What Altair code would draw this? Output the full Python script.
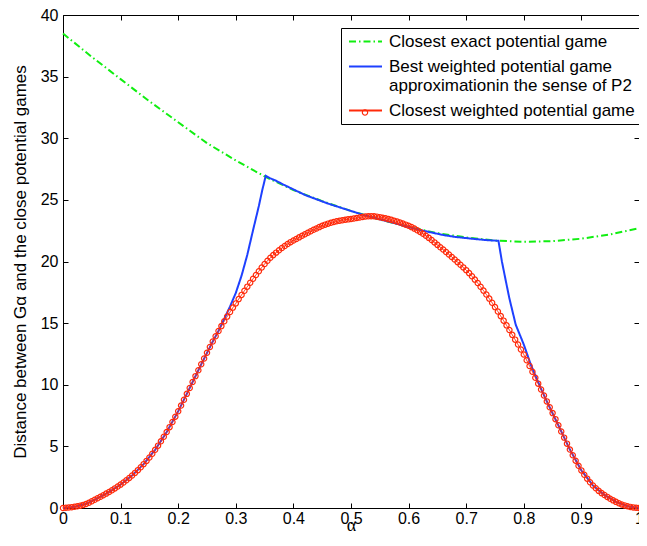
import altair as alt
import pandas as pd

S1 = "Closest exact potential game"
S2 = "Best weighted potential game\napproximationin the sense of P2"
S3 = "Closest weighted potential game"

GREEN = "#11ee11"
BLUE = "#1e40ff"
RED = "#ff2a0a"

x_ticks = [0, 0.1, 0.2, 0.3, 0.4, 0.5, 0.6, 0.7, 0.8, 0.9, 1]
y_ticks = [0, 5, 10, 15, 20, 25, 30, 35, 40]

alpha_green = [0.00, 0.05, 0.10, 0.15, 0.20, 0.25, 0.30, 0.35, 0.40, 0.45, 0.50,
               0.55, 0.60, 0.65, 0.70, 0.75, 0.80, 0.85, 0.90, 0.95, 1.00]
green_vals = [38.5, 36.6, 34.8, 33.0, 31.3, 29.6, 28.2, 26.9, 25.8, 24.9, 24.1,
              23.4, 22.8, 22.3, 21.95, 21.7, 21.6, 21.65, 21.85, 22.2, 22.7]

alpha_blue = [0.00, 0.02, 0.04, 0.06, 0.08, 0.10, 0.12, 0.14, 0.16, 0.18, 0.20,
              0.22, 0.24, 0.26, 0.27, 0.28, 0.29, 0.30, 0.31, 0.32, 0.33, 0.34,
              0.346, 0.352, 0.36, 0.37, 0.38, 0.40, 0.42, 0.44, 0.46, 0.48, 0.50,
              0.52, 0.54, 0.56, 0.58, 0.60, 0.62, 0.64, 0.66, 0.68, 0.70, 0.72,
              0.74, 0.756, 0.762, 0.769, 0.775, 0.786, 0.80, 0.812, 0.829, 0.84,
              0.86, 0.88, 0.90, 0.92, 0.94, 0.96, 0.98, 1.00]
blue_vals = [0.00, 0.10, 0.33, 0.79, 1.30, 1.90, 2.64, 3.56, 4.72, 6.16, 7.85,
             9.74, 11.66, 13.51, 14.36, 15.35, 16.35, 17.45, 18.85, 20.55, 22.55, 24.5,
             25.8, 26.95, 26.75, 26.55, 26.3, 25.85, 25.4, 25.05, 24.7, 24.4, 24.1,
             23.8, 23.55, 23.3, 23.05, 22.8, 22.55, 22.35, 22.15, 22.0, 21.9, 21.8,
             21.72, 21.68, 20.0, 18.37, 17.0, 14.87, 13.26, 11.65, 9.76, 8.65,
             6.71, 4.74, 3.05, 1.83, 1.05, 0.50, 0.14, 0.00]

# marker sampling grid of the red series (step 0.005)
alpha_red = [round(i * 0.005, 3) for i in range(201)]
red_vals = [
    0.00, 0.02, 0.04, 0.07, 0.10, 0.14, 0.19, 0.25, 0.33, 0.43,
    0.55, 0.67, 0.79, 0.91, 1.04, 1.17, 1.30, 1.44, 1.59, 1.74,
    1.90, 2.07, 2.25, 2.44, 2.64, 2.85, 3.07, 3.31, 3.56, 3.82,
    4.10, 4.40, 4.72, 5.06, 5.41, 5.78, 6.16, 6.56, 6.98, 7.41,
    7.85, 8.31, 8.78, 9.26, 9.74, 10.22, 10.70, 11.18, 11.66, 12.13,
    12.60, 13.06, 13.51, 13.94, 14.36, 14.76, 15.15, 15.53, 15.90, 16.26,
    16.60, 16.95, 17.29, 17.63, 17.96, 18.28, 18.60, 18.91, 19.21, 19.51,
    19.80, 20.06, 20.30, 20.52, 20.72, 20.91, 21.09, 21.26, 21.42, 21.57,
    21.70, 21.83, 21.96, 22.09, 22.21, 22.33, 22.45, 22.57, 22.68, 22.79,
    22.90, 22.99, 23.07, 23.14, 23.20, 23.26, 23.31, 23.35, 23.39, 23.42,
    23.45, 23.49, 23.53, 23.57, 23.61, 23.65, 23.67, 23.68, 23.67, 23.64,
    23.60, 23.55, 23.50, 23.44, 23.38, 23.31, 23.24, 23.16, 23.08, 22.99,
    22.90, 22.79, 22.67, 22.54, 22.40, 22.25, 22.09, 21.92, 21.74, 21.55,
    21.35, 21.16, 20.97, 20.77, 20.57, 20.37, 20.16, 19.95, 19.74, 19.52,
    19.30, 19.06, 18.80, 18.53, 18.25, 17.95, 17.64, 17.32, 16.99, 16.65,
    16.30, 15.94, 15.57, 15.20, 14.82, 14.44, 14.05, 13.66, 13.26, 12.86,
    12.45, 11.99, 11.52, 11.05, 10.57, 10.09, 9.61, 9.13, 8.65, 8.17,
    7.70, 7.21, 6.71, 6.21, 5.71, 5.22, 4.74, 4.28, 3.84, 3.43,
    3.05, 2.70, 2.38, 2.09, 1.83, 1.60, 1.39, 1.21, 1.05, 0.90,
    0.75, 0.62, 0.50, 0.39, 0.29, 0.21, 0.14, 0.09, 0.05, 0.02,
    0.00,
]
assert len(red_vals) == len(alpha_red)

df_g = pd.DataFrame({"alpha": alpha_green, "d": green_vals, "series": S1})
df_b = pd.DataFrame({"alpha": alpha_blue, "d": blue_vals, "series": S2})
df_r = pd.DataFrame({"alpha": alpha_red, "d": red_vals, "series": S3, "marker": S3})

W, H = 576, 493

xs = alt.Scale(domain=[0, 1], nice=False, zero=False)
ys = alt.Scale(domain=[0, 40], nice=False, zero=False)

ax_bottom = alt.Axis(orient="bottom", values=x_ticks, format="~g", offset=-5, tickSize=5,
                     labelPadding=2, labelFlush=False, labelOverlap=False, domain=False, grid=False,
                     title="α", titleFont="Liberation Serif", titleFontSize=18,
                     titleFontWeight="normal", titleX=W / 2, titleY=27,
                     titleBaseline="alphabetic", titleColor="black")
ax_left = alt.Axis(orient="left", values=y_ticks, offset=-5, tickSize=5, labelPadding=5,
                   labelFlush=False, labelOverlap=False, domain=False, grid=False,
                   title="Distance between Gα and the close potential games",
                   titleFont="Liberation Sans", titleFontSize=17, titleFontWeight="normal",
                   titleX=-43, titleY=H / 2, titleBaseline="alphabetic", titleAlign="center",
                   titleColor="black")
ax_top = alt.Axis(orient="top", values=x_ticks, offset=-5, tickSize=5, labels=False,
                  domain=False, grid=False, title=None)
ax_right = alt.Axis(orient="right", values=y_ticks, offset=-5, tickSize=5, labels=False,
                    domain=False, grid=False, title=None)

dom = [S1, S2, S3]
legend = alt.Legend(title=None, orient="none", legendX=278, legendY=13,
                    labelExpr="split(datum.label, '\\n')", labelFont="Liberation Sans",
                    labelFontSize=17, labelColor="black", labelLimit=500,
                    symbolType="M-3,0H3", symbolSize=121, symbolStrokeWidth=2,
                    symbolOffset=11, labelOffset=15,
                    strokeColor="black", fillColor="white", padding=5, rowPadding=7,
                    zindex=0)
color = alt.Color("series:N", scale=alt.Scale(domain=dom, range=[GREEN, BLUE, RED]), legend=legend)
dash = alt.StrokeDash("series:N", scale=alt.Scale(domain=dom, range=[[7, 3, 1.5, 3], [1, 0], [1, 0]]),
                      legend=legend)

green = alt.Chart(df_g).mark_line(strokeWidth=2).encode(
    x=alt.X("alpha:Q", scale=xs, axis=ax_bottom),
    y=alt.Y("d:Q", scale=ys, axis=ax_left),
    color=color, strokeDash=dash, order="alpha:Q")

blue = alt.Chart(df_b).mark_line(strokeWidth=2).encode(
    x=alt.X("alpha:Q", scale=xs, axis=ax_top),
    y=alt.Y("d:Q", scale=ys, axis=ax_right),
    color=color, strokeDash=dash, order="alpha:Q")

red_line = alt.Chart(df_r).mark_line(strokeWidth=1).encode(
    x=alt.X("alpha:Q", scale=xs, axis=None),
    y=alt.Y("d:Q", scale=ys, axis=None),
    color=color, strokeDash=dash, order="alpha:Q")

red_pts = alt.Chart(df_r).mark_point(filled=False, size=28, strokeWidth=1.2, color=RED, opacity=1).encode(
    x=alt.X("alpha:Q", scale=xs, axis=None),
    y=alt.Y("d:Q", scale=ys, axis=None),
    shape=alt.Shape("marker:N", scale=alt.Scale(domain=[S3], range=["circle"]),
                    legend=alt.Legend(title=None, orient="none", legendX=297, legendY=92.5,
                                      labelExpr="''", symbolSize=28, symbolStrokeWidth=1.2,
                                      symbolStrokeColor=RED, symbolFillColor="transparent",
                                      padding=0, zindex=2)))

chart = alt.layer(green, blue, red_line, red_pts).resolve_axis(
    x="independent", y="independent"
).properties(
    width=W, height=H,
    padding={"left": 55, "top": 7, "right": 0, "bottom": 26},
    autosize=alt.AutoSizeParams(type="none"),
    background="white",
).configure_view(stroke="black", strokeWidth=1).configure_axis(
    labelFont="Liberation Sans", labelFontSize=16, labelColor="black",
    tickColor="black", tickWidth=1,
)

chart.save("out.html", embed_options={"renderer": "svg", "actions": False})
